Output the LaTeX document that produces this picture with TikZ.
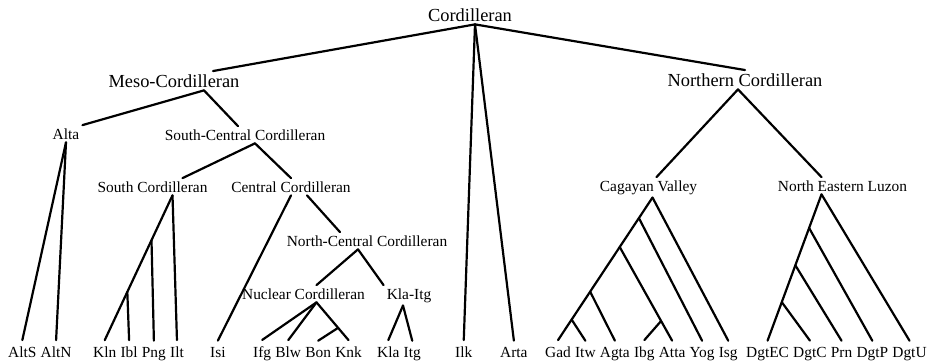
\documentclass[tikz,border=0pt]{standalone}
\usepackage{fontspec}
\setmainfont{Liberation Serif}
\usetikzlibrary{positioning, calc}

\begin{document}
\begin{tikzpicture}[
    x=1pt, y=-1pt,
    toplabel/.style={
      font=\fontsize{18.4}{22}\selectfont, inner sep=3pt, anchor=base,
    },
    grouplabel/.style={
      font=\fontsize{15.4}{18}\selectfont, inner sep=3pt, anchor=base,
    },
    leaf/.style={
      font=\fontsize{15.4}{18}\selectfont, inner xsep=0pt, inner ysep=6pt
    },
    branch/.style={line width=2.2pt, line cap=round, line join=round},
  ]

  %% ---- page frame: 929 x 362 ----
  \useasboundingbox (0,0) rectangle (929,362);

  %% ---- leaves (one baseline, words set in runs) ----
  \def\leafy{357}
  \def\gap{3.85pt}

  \node[leaf, anchor=base west] (AltS) at (8,\leafy) {AltS};
  \node[leaf, base right=\gap of AltS] (AltN) {AltN};

  \node[leaf, anchor=base west] (Kln) at (93,\leafy) {Kln};
  \node[leaf, base right=\gap of Kln] (Ibl) {Ibl};
  \node[leaf, base right=\gap of Ibl] (Png) {Png};
  \node[leaf, base right=\gap of Png] (Ilt) {Ilt};

  \node[leaf, anchor=base west] (Isi) at (210,\leafy) {Isi};

  \node[leaf, anchor=base west] (Ifg) at (253,\leafy) {Ifg};
  \node[leaf, base right=\gap of Ifg] (Blw) {Blw};
  \node[leaf, base right=\gap of Blw] (Bon) {Bon};
  \node[leaf, base right=\gap of Bon] (Knk) {Knk};

  \node[leaf, anchor=base west] (Kla) at (377,\leafy) {Kla};
  \node[leaf, base right=\gap of Kla] (Itg) {Itg};

  \node[leaf, anchor=base west] (Ilk) at (455,\leafy) {Ilk};
  \node[leaf, anchor=base west] (Arta) at (500,\leafy) {Arta};

  \node[leaf, anchor=base west] (Gad) at (545,\leafy) {Gad};
  \node[leaf, base right=\gap of Gad] (Itw) {Itw};
  \node[leaf, base right=\gap of Itw] (Agta) {Agta};
  \node[leaf, base right=\gap of Agta] (Ibg) {Ibg};
  \node[leaf, base right=\gap of Ibg] (Atta) {Atta};
  \node[leaf, base right=\gap of Atta] (Yog) {Yog};
  \node[leaf, base right=\gap of Yog] (Isg) {Isg};

  \node[leaf, anchor=base west] (DgtEC) at (746,\leafy) {DgtEC};
  \node[leaf, base right=\gap of DgtEC] (DgtC) {DgtC};
  \node[leaf, base right=\gap of DgtC] (Prn) {Prn};
  \node[leaf, base right=\gap of Prn] (DgtP) {DgtP};
  \node[leaf, base right=\gap of DgtP] (DgtU) {DgtU};

  %% ---- subgroup labels ----
  \node[toplabel] (cord)  at (470,21)  {Cordilleran};
  \node[toplabel] (meso)  at (174,87)  {Meso-Cordilleran};
  \node[toplabel] (north) at (745,86)  {Northern Cordilleran};

  \node[grouplabel] (alta)     at (66,139)    {Alta};
  \node[grouplabel] (scentral) at (245,140)   {South-Central Cordilleran};
  \node[grouplabel] (south)    at (152.5,192) {South Cordilleran};
  \node[grouplabel] (central)  at (291,192)   {Central Cordilleran};
  \node[grouplabel] (ncentral) at (367,246)   {North-Central Cordilleran};
  \node[grouplabel] (nuclear)  at (303.5,299) {Nuclear Cordilleran};
  \node[grouplabel] (klaitg)   at (409,299)   {Kla-Itg};
  \node[grouplabel] (cagayan)  at (648.5,191) {Cagayan Valley};
  \node[grouplabel] (neluzon)  at (842.5,191) {North Eastern Luzon};

  %% ---- root ----
  \coordinate (cord-b) at ([xshift=5pt]cord.south);
  \draw[branch] (cord-b) -- ([xshift=39pt]meso.north);
  \draw[branch] (cord-b) -- (north.north);
  \draw[branch] (cord-b) -- (Ilk.north);
  \draw[branch] (cord-b) -- (Arta.north);

  %% ---- Meso-Cordilleran ----
  \coordinate (meso-b) at ([xshift=30pt]meso.south);
  \draw[branch] (meso-b) -- (alta.north east);
  \draw[branch] (meso-b) -- ([xshift=-7pt]scentral.north);

  % Alta
  \draw[branch] (alta.south) -- (AltS.north);
  \draw[branch] (alta.south) -- (AltN.north);

  % South-Central
  \coordinate (sc-b) at ([xshift=10pt]scentral.south);
  \draw[branch] (sc-b) -- ([xshift=30pt]south.north);
  \draw[branch] (sc-b) -- (central.north);

  % South Cordilleran: one long limb, twigs hang off it
  \coordinate (south-b) at ([xshift=20pt]south.south);
  \draw[branch] (south-b) -- (Kln.north);
  \draw[branch] (south-b) -- (Ilt.north);
  \coordinate (south-1) at ($(south-b)!0.31!(Kln.north)$);
  \coordinate (south-2) at ($(south-b)!0.667!(Kln.north)$);
  \draw[branch] (south-1) -- (Png.north);
  \draw[branch] (south-2) -- (Ibl.north);

  % Central Cordilleran
  \draw[branch] (central.south) -- (Isi.north);
  \draw[branch] ([xshift=16pt]central.south) -- ([xshift=-27pt]ncentral.north);

  % North-Central
  \coordinate (nc-b) at ([xshift=-9pt]ncentral.south);
  \draw[branch] (nc-b) -- ([xshift=13pt]nuclear.north);
  \draw[branch] (nc-b) -- (klaitg.north west);

  % Nuclear
  \coordinate (nuc-b) at ([xshift=13pt]nuclear.south);
  \draw[branch] (nuc-b) -- (Ifg.north);
  \draw[branch] (nuc-b) -- (Blw.north);
  \draw[branch] (nuc-b) -- (Knk.north);
  \coordinate (nuc-1) at ($(nuc-b)!0.675!(Knk.north)$);
  \draw[branch] (nuc-1) -- (Bon.north);

  % Kla-Itg
  \coordinate (kla-b) at ([xshift=-6pt]klaitg.south);
  \draw[branch] (kla-b) -- (Kla.north);
  \draw[branch] (kla-b) -- (Itg.north);

  %% ---- Northern Cordilleran ----
  \coordinate (north-b) at ([xshift=-7pt]north.south);
  \draw[branch] (north-b) -- ([xshift=8pt]cagayan.north);
  \draw[branch] (north-b) -- ([xshift=-21pt]neluzon.north);

  % Cagayan Valley ladder
  \coordinate (cv-b) at ([xshift=4pt]cagayan.south);
  \draw[branch] (cv-b) -- (Gad.north);
  \draw[branch] (cv-b) -- (Isg.north);
  \coordinate (cv-1) at ($(cv-b)!0.144!(Gad.north)$);
  \coordinate (cv-2) at ($(cv-b)!0.347!(Gad.north)$);
  \coordinate (cv-3) at ($(cv-b)!0.66!(Gad.north)$);
  \coordinate (cv-4) at ($(cv-b)!0.856!(Gad.north)$);
  \draw[branch] (cv-1) -- (Yog.north);
  \draw[branch] (cv-2) -- (Atta.north);
  \draw[branch] (cv-3) -- (Agta.north);
  \draw[branch] (cv-4) -- (Itw.north);
  \coordinate (cv-5) at ($(cv-2)!0.79!(Atta.north)$);
  \draw[branch] (cv-5) -- (Ibg.north);

  % North Eastern Luzon ladder
  \coordinate (nel-b) at ([xshift=-21pt]neluzon.south);
  \draw[branch] (nel-b) -- (DgtEC.north);
  \draw[branch] (nel-b) -- (DgtU.north);
  \coordinate (nel-1) at ($(nel-b)!0.23!(DgtEC.north)$);
  \coordinate (nel-2) at ($(nel-b)!0.485!(DgtEC.north)$);
  \coordinate (nel-3) at ($(nel-b)!0.737!(DgtEC.north)$);
  \draw[branch] (nel-1) -- (DgtP.north);
  \draw[branch] (nel-2) -- (Prn.north);
  \draw[branch] (nel-3) -- (DgtC.north);

\end{tikzpicture}
\end{document}
